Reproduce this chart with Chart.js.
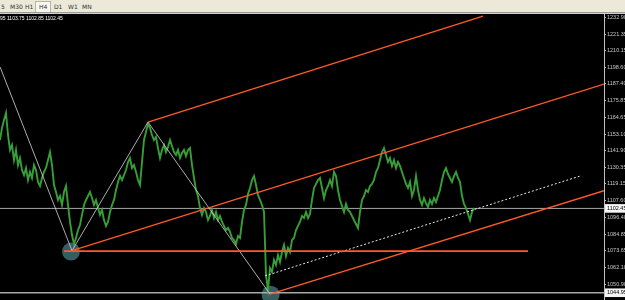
<!DOCTYPE html>
<html>
<head>
<meta charset="utf-8">
<script src="https://cdn.jsdelivr.net/npm/chart.js@4"></script>
<style>
  html, body { margin: 0; padding: 0; background: #000; width: 625px; height: 300px; overflow: hidden; }
  #bar { position: absolute; left: 0; top: 0; width: 625px; height: 12px; background: #ece9d8; border-bottom: 1px solid #9a9a9a; font: 6px "DejaVu Sans", sans-serif; color: #333; }
  #bar span { position: absolute; top: 3px; }
  #bar .on { top: 1px; height: 10px; line-height: 10px; padding: 0 3px; background: #f7f6f0; border: 1px solid #b8b4a4; border-bottom: none; margin-left: -4px; }
  #edge { position: absolute; left: 0; top: 13px; width: 625px; height: 1px; background: #d0d0d0; }
  #wrap { position: absolute; left: 0; top: 14px; width: 625px; height: 286px; }
  #info { position: absolute; left: 0; top: 15px; font: 5px "Liberation Sans", sans-serif; color: #fff; white-space: nowrap; }
</style>
</head>
<body>
<div id="bar">
  <span style="left:1px">5</span>
  <span style="left:10px">M30</span>
  <span style="left:25px">H1</span>
  <span class="on" style="left:39px">H4</span>
  <span style="left:54px">D1</span>
  <span style="left:68px">W1</span>
  <span style="left:82px">MN</span>
</div>
<div id="edge"></div>
<div id="wrap"><canvas id="chart"></canvas></div>
<div id="info">95 1103.75 1102.85 1102.45</div>
<script>
// price scale labels shown on the right
const priceLevels = [1232.90, 1221.35, 1210.15, 1198.60, 1187.40, 1175.85, 1164.65, 1153.10, 1141.90,
    1130.35, 1119.15, 1107.60, 1096.40, 1084.85, 1073.65, 1062.10, 1050.90, 1102.45, 1044.95];
const markedLevels = [1102.45, 1044.95];

// close per bar (bar 0 .. 237)
const closes = [
    1149.1, 1157.3, 1162.7, 1167.5, 1152.5, 1142.3, 1145.7, 1135.4, 1142.3, 1132.0,
    1136.8, 1128.6, 1125.2, 1130.0, 1121.8, 1127.3, 1123.2, 1132.0, 1128.6, 1120.5,
    1117.7, 1123.2, 1127.3, 1130.0, 1135.4, 1140.9, 1132.0, 1118.4, 1113.6, 1108.2,
    1110.9, 1104.8, 1113.6, 1117.7, 1104.8, 1093.2, 1084.3, 1078.2, 1082.3, 1087.7,
    1091.1, 1098.0, 1104.8, 1108.2, 1110.9, 1113.6, 1109.5, 1104.8, 1108.2, 1102.7,
    1098.0, 1101.4, 1094.5, 1090.5, 1093.2, 1100.0, 1104.8, 1108.2, 1115.0, 1120.5,
    1124.5, 1121.8, 1125.2, 1128.6, 1134.1, 1136.8, 1130.0, 1132.0, 1127.3, 1121.8,
    1118.4, 1134.1, 1149.1, 1154.5, 1160.0, 1157.3, 1152.5, 1149.1, 1151.1, 1143.6,
    1136.8, 1142.3, 1145.7, 1140.9, 1144.3, 1149.1, 1145.0, 1140.9, 1138.9, 1142.3,
    1136.8, 1140.2, 1142.3, 1138.2, 1142.3, 1143.6, 1132.0, 1123.2, 1115.0, 1110.9,
    1102.7, 1098.0, 1102.7, 1100.0, 1094.5, 1097.3, 1101.4, 1095.9, 1100.0, 1094.5,
    1097.3, 1093.2, 1090.5, 1087.7, 1089.1, 1086.4, 1082.3, 1080.9, 1078.2, 1083.6,
    1082.3, 1093.2, 1101.4, 1104.8, 1112.3, 1116.4, 1121.8, 1124.5, 1118.4, 1111.6,
    1108.2, 1104.8, 1100.0, 1057.1, 1046.8, 1061.8, 1059.1, 1067.3, 1063.9, 1070.7,
    1065.9, 1072.7, 1077.5, 1070.0, 1075.5, 1072.7, 1080.9, 1082.3, 1087.7, 1090.5,
    1093.2, 1097.3, 1095.9, 1100.0, 1095.9, 1098.6, 1108.2, 1116.4, 1119.1, 1121.8,
    1123.2, 1116.4, 1109.5, 1115.0, 1117.7, 1121.8, 1117.7, 1127.3, 1124.5, 1115.0,
    1108.2, 1104.1, 1100.0, 1105.5, 1101.4, 1100.0, 1097.3, 1094.5, 1091.8, 1089.1,
    1100.0, 1108.2, 1110.9, 1115.0, 1113.6, 1117.7, 1119.1, 1121.8, 1127.3, 1130.0,
    1135.4, 1140.9, 1143.6, 1138.9, 1134.1, 1136.8, 1131.4, 1135.4, 1130.0, 1134.1,
    1131.4, 1127.3, 1123.2, 1119.1, 1116.4, 1120.5, 1110.9, 1115.0, 1124.5, 1115.0,
    1108.2, 1104.8, 1109.5, 1106.1, 1103.4, 1108.2, 1105.5, 1109.5, 1106.8, 1110.9,
    1115.0, 1121.8, 1127.3, 1130.0, 1125.9, 1123.2, 1120.5, 1124.5, 1127.3, 1123.2,
    1120.5, 1110.9, 1105.5, 1102.7, 1098.6, 1094.5, 1100.0, 1102.7
];
const lastBar = 302;

// drawn objects: zigzag, pivots, pitchfork
const zigzagBars = [0, 36, 74, 135];
const zigzagPrices = [1199.0, 1073.6, 1161.3, 1044.0];
const pivotBars = [35.5, 135.3];
const pivotPrices = [1073.0, 1043.6];
const medianBars = [36, 302];
const medianPrices = [1073.6, 1187.2];
const upperBars = [74, 241.5];
const upperPrices = [1161.3, 1233.5];
const lowerBars = [135, 302];
const lowerPrices = [1044.0, 1114.5];
const dottedBars = [132.5, 290];
const dottedPrices = [1056.4, 1124.5];
const supportBars = [32, 264];
const supportPrices = [1073.3, 1073.3];

const orange = '#ff5a28';

function pts(bars, prices) {
    return bars.map((b, i) => ({ x: b, y: prices[i] }));
}
function isMarked(v) {
    return markedLevels.some(m => Math.abs(m - v) < 0.001);
}
function seg(bars, prices, color, extra) {
    return Object.assign({
        data: pts(bars, prices),
        borderColor: color,
        borderWidth: 1.3,
        pointRadius: 0,
        tension: 0
    }, extra || {});
}

const ctx = document.getElementById('chart').getContext('2d');
new Chart(ctx, {
    type: 'line',
    data: {
        datasets: [
            seg(medianBars, medianPrices, orange),
            seg(upperBars, upperPrices, orange),
            seg(lowerBars, lowerPrices, orange),
            seg(supportBars, supportPrices, orange, { borderWidth: 1.6 }),
            seg(dottedBars, dottedPrices, '#e8e8e8', { borderWidth: 1, borderDash: [2, 2] }),
            seg(zigzagBars, zigzagPrices, '#d8d8d8', { borderWidth: 0.8 }),
            {
                data: closes.map((c, i) => ({ x: i, y: c })),
                borderColor: '#36a036',
                borderWidth: 1.9,
                pointRadius: 0,
                tension: 0
            },
            seg([0, lastBar], [markedLevels[0], markedLevels[0]], '#a8a8a8', { borderWidth: 1 }),
            seg([0, lastBar], [markedLevels[1], markedLevels[1]], '#a8a8a8', { borderWidth: 1.5 }),
            {
                data: pts(pivotBars, pivotPrices),
                showLine: false,
                pointRadius: 9,
                pointBorderWidth: 0,
                pointBackgroundColor: 'rgba(100, 170, 180, 0.55)'
            }
        ]
    },
    options: {
        responsive: true,
        maintainAspectRatio: false,
        animation: false,
        layout: { padding: 0, autoPadding: false },
        plugins: {
            legend: { display: false },
            tooltip: { enabled: false }
        },
        scales: {
            x: {
                type: 'linear',
                min: 0,
                max: lastBar,
                display: false
            },
            y: {
                position: 'right',
                min: 1040.0,
                max: 1235.0,
                border: { display: true, color: '#c0c0c0', width: 1 },
                grid: { drawOnChartArea: false, drawTicks: true, tickLength: 2, color: '#c0c0c0' },
                afterBuildTicks: function(scale) {
                    scale.ticks = priceLevels.map(v => ({ value: v }));
                },
                afterFit: function(scale) {
                    scale.width = 21;
                    scale.paddingTop = 0;
                    scale.paddingBottom = 0;
                },
                ticks: {
                    autoSkip: false,
                    padding: 1,
                    font: { family: 'Liberation Sans', size: 5.5 },
                    color: c => isMarked(c.tick.value) ? '#000' : '#c8c8c8',
                    showLabelBackdrop: c => isMarked(c.tick.value),
                    backdropColor: '#f4f4f4',
                    backdropPadding: { top: 1, bottom: 1, left: 2, right: 6 },
                    callback: v => Number(v).toFixed(2)
                }
            }
        }
    }
});
</script>
</body>
</html>
